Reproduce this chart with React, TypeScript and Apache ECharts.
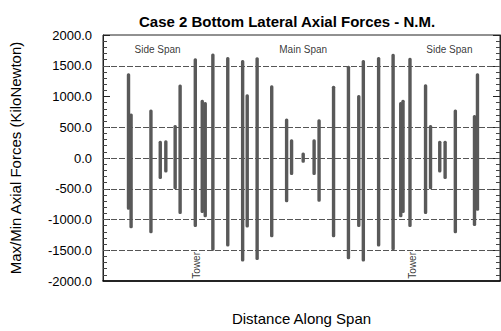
import React, { useEffect, useRef } from "react";
import * as echarts from "echarts";

const TITLE = "Case 2 Bottom Lateral Axial Forces - N.M.";
const Y_NAME = "Max/Min Axial Forces (KiloNewton)";
const X_NAME = "Distance Along Span";

const Y_MIN = -2000;
const Y_MAX = 2000;
const Y_INTERVAL = 500;
const X_MIN = 0;
const X_MAX = 400;
const GRID_LINES = [1500, 500, 0, -500, -1000, -1500];

const DISTANCE = [25.7, 28.3, 48.3, 57.7, 63.3, 72.7, 77.7, 93, 100, 103, 110.7, 125.7, 140.7, 145.3, 155.3, 170, 185, 190, 201.7, 212.7, 217.7, 232.3, 247.3, 257.7, 262.3, 277.7, 292.3, 300, 302.3, 309.3, 325, 330, 339.3, 344.7, 355, 374.3, 377.3];
const MAX_FORCE = [1380, 722, 790, 280, 290, 537, 1195, 1622, 947, 911, 1700, 1642, 1595, 1037, 1637, 1184, 643, 306, 90, 306, 632, 1175, 1500, 1026, 1595, 1642, 1695, 911, 947, 1632, 1200, 537, 280, 280, 790, 700, 1380];
const MIN_FORCE = [-842, -1142, -1225, -341, -237, -510, -910, -1121, -894, -963, -1510, -1437, -1683, -1131, -1658, -1288, -720, -278, -79, -278, -711, -1288, -1647, -1121, -1683, -1437, -1500, -963, -894, -1121, -910, -510, -237, -341, -1225, -1105, -858];

const SPAN_LABELS = ["Side Span", "Main Span", "Side Span"];
const SPAN_LABEL_X = [55, 201.7, 349];
const SPAN_LABEL_Y = 1760;
const TOWER_LABEL = "Tower";
const TOWER_X = [94.3, 312];
const TOWER_LABEL_Y = -1745;

const FONT = "'Liberation Sans', Arial, sans-serif";

export default function App() {
  const ref = useRef<HTMLDivElement>(null);
  useEffect(() => {
    document.body.style.margin = "0";
    if (!ref.current) return;
    const chart = echarts.init(ref.current, null, { renderer: "svg" });
    const rangeData = DISTANCE.map((d, i) => [d, MIN_FORCE[i], MAX_FORCE[i]]);
    const yAxisCommon = {
      type: "value",
      min: Y_MIN,
      max: Y_MAX,
      interval: Y_INTERVAL,
      axisLine: { show: true, onZero: false, lineStyle: { color: "#222", width: 1 } },
      axisTick: { show: true, inside: true, length: 7, lineStyle: { color: "#222" } },
      minorTick: { show: true, splitNumber: 5, length: 4, lineStyle: { color: "#444" } },
      splitLine: { show: false },
      minorSplitLine: { show: false },
    };
    chart.setOption({
      animation: false,
      textStyle: { fontFamily: FONT },
      title: {
        text: TITLE,
        left: 134,
        top: 9,
        textStyle: { fontFamily: FONT, fontSize: 15, fontWeight: "bold", color: "#000" },
      },
      grid: { left: 100, right: 1, top: 35, bottom: 43, show: true, borderColor: "#222", borderWidth: 1 },
      xAxis: {
        type: "value",
        min: X_MIN,
        max: X_MAX,
        name: X_NAME,
        nameLocation: "middle",
        nameGap: 30,
        nameTextStyle: { fontFamily: FONT, fontSize: 15, color: "#000" },
        axisLine: { show: true, onZero: false, lineStyle: { color: "#000", width: 1.5 } },
        axisTick: { show: false },
        axisLabel: { show: false },
        splitLine: { show: false },
      },
      yAxis: [
        {
          ...yAxisCommon,
          position: "left",
          name: Y_NAME,
          nameLocation: "middle",
          nameGap: 80,
          nameTextStyle: { fontFamily: FONT, fontSize: 15, color: "#000" },
          axisLabel: {
            show: true,
            margin: 11,
            fontFamily: FONT,
            fontSize: 13,
            color: "#000",
            formatter: (v: number) => v.toFixed(1),
          },
        },
        {
          ...yAxisCommon,
          position: "right",
          axisLabel: { show: false },
        },
      ],
      series: [
        {
          type: "custom",
          xAxisIndex: 0,
          yAxisIndex: 0,
          data: rangeData,
          encode: { x: 0, y: [1, 2] },
          renderItem: (params: any, api: any) => {
            const x = api.value(0);
            const lo = api.coord([x, api.value(1)]);
            const hi = api.coord([x, api.value(2)]);
            const w = 3.4;
            return {
              type: "rect",
              shape: { x: lo[0] - w / 2, y: hi[1], width: w, height: lo[1] - hi[1], r: 1.5 },
              style: { fill: "#595959" },
            };
          },
          markLine: {
            silent: true,
            symbol: "none",
            label: { show: false },
            lineStyle: { type: [6, 2], color: "#555", width: 1 },
            data: GRID_LINES.map((v) => ({ yAxis: v })),
            z: 1,
          },
          z: 3,
        },
        {
          type: "scatter",
          symbolSize: 1,
          itemStyle: { color: "rgba(0,0,0,0)" },
          data: SPAN_LABEL_X.map((x, i) => ({ value: [x, SPAN_LABEL_Y], name: SPAN_LABELS[i] })),
          label: {
            show: true,
            position: "inside",
            formatter: (p: any) => p.name,
            fontFamily: FONT,
            fontSize: 10,
            color: "#000",
          },
          z: 4,
        },
        {
          type: "scatter",
          symbolSize: 1,
          itemStyle: { color: "rgba(0,0,0,0)" },
          data: TOWER_X.map((x) => ({ value: [x, TOWER_LABEL_Y], name: TOWER_LABEL })),
          label: {
            show: true,
            position: "inside",
            rotate: 90,
            formatter: (p: any) => p.name,
            fontFamily: FONT,
            fontSize: 10,
            color: "#000",
          },
          z: 4,
        },
      ],
    });
    return () => chart.dispose();
  }, []);
  return <div ref={ref} style={{ width: 501, height: 331 }} />;
}
